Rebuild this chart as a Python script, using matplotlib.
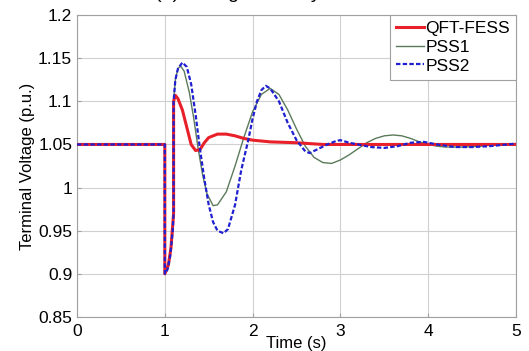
import numpy as np
import matplotlib.pyplot as plt

plt.rcParams['font.family'] = ['Liberation Sans', 'DejaVu Sans']

# QFT-FESS
t_qft = [0, 1.0, 1.0, 1.04, 1.07, 1.1, 1.1, 1.12, 1.15, 1.2, 1.25, 1.3, 1.35, 1.4,
         1.45, 1.5, 1.6, 1.7, 1.8, 1.9, 2.0, 2.2, 2.5, 2.8, 3.0, 5.0]
v_qft = [1.05, 1.05, 0.9, 0.91, 0.93, 0.97, 1.10, 1.107, 1.103, 1.09, 1.07, 1.05, 1.043, 1.044,
         1.052, 1.058, 1.062, 1.062, 1.06, 1.057, 1.055, 1.053, 1.052, 1.05, 1.05, 1.05]

# PSS1
t_pss1 = [0, 1.0, 1.0, 1.03, 1.06, 1.09, 1.1, 1.1, 1.12, 1.15, 1.18, 1.22, 1.28, 1.33,
          1.38, 1.43, 1.48, 1.55, 1.6, 1.7, 1.8, 1.9, 2.0, 2.1, 2.2, 2.3, 2.4, 2.5,
          2.6, 2.7, 2.8, 2.9, 3.0, 3.1, 3.2, 3.3, 3.4, 3.5, 3.6, 3.7, 3.8, 3.9, 4.0,
          4.1, 4.2, 4.4, 4.6, 4.8, 5.0]
v_pss1 = [1.05, 1.05, 0.9, 0.905, 0.92, 0.95, 0.97, 1.10, 1.125, 1.138, 1.141, 1.135, 1.11, 1.08,
          1.045, 1.015, 0.993, 0.979, 0.98, 0.995, 1.025, 1.058, 1.088, 1.108, 1.115, 1.108, 1.09, 1.068,
          1.048, 1.035, 1.029, 1.028, 1.032, 1.038, 1.045, 1.052, 1.057, 1.06, 1.061, 1.06, 1.057, 1.053, 1.05,
          1.048, 1.047, 1.047, 1.048, 1.05, 1.051]

# PSS2
t_pss2 = [0, 1.0, 1.0, 1.03, 1.06, 1.09, 1.1, 1.1, 1.12, 1.15, 1.2, 1.25, 1.3, 1.35,
          1.4, 1.45, 1.5, 1.55, 1.6, 1.67, 1.72, 1.8, 1.87, 1.95, 2.0, 2.05, 2.1, 2.15,
          2.2, 2.3, 2.4, 2.5, 2.6, 2.65, 2.75, 2.85, 2.95, 3.0, 3.1, 3.2, 3.35, 3.5,
          3.65, 3.8, 3.95, 4.1, 4.3, 4.5, 4.7, 5.0]
v_pss2 = [1.05, 1.05, 0.9, 0.905, 0.92, 0.95, 0.97, 1.10, 1.125, 1.138, 1.145, 1.14, 1.12, 1.085,
          1.045, 1.01, 0.98, 0.96, 0.95, 0.947, 0.952, 0.98, 1.02, 1.055, 1.08, 1.1, 1.113, 1.118,
          1.115, 1.1, 1.075, 1.055, 1.042, 1.04, 1.045, 1.05, 1.054, 1.055, 1.052, 1.05, 1.047, 1.046,
          1.048, 1.052, 1.053, 1.05, 1.047, 1.047, 1.048, 1.051]

xticks = [0, 1, 2, 3, 4, 5]
yticks = [0.85, 0.9, 0.95, 1.0, 1.05, 1.1, 1.15, 1.2]
ytick_labels = ['0.85', '0.9', '0.95', '1', '1.05', '1.1', '1.15', '1.2']

fig = plt.figure(figsize=(5.29, 3.51), dpi=100)
ax = fig.add_axes([0.1456, 0.097, 0.8298, 0.86])

ax.plot(t_qft, v_qft, color='#e8202a', lw=2.2, label='QFT-FESS', zorder=3)
ax.plot(t_pss1, v_pss1, color='#5b7a5b', lw=1.0, label='PSS1', zorder=2)
ax.plot(t_pss2, v_pss2, color='#2020d0', lw=1.6, ls=(0, (2.0, 1.0)), label='PSS2', zorder=4)

ax.set_xlim(0, 5)
ax.set_ylim(0.85, 1.2)
ax.set_xticks(xticks)
ax.set_yticks(yticks)
ax.set_yticklabels(ytick_labels)
ax.grid(True, color='#d0d0d0', lw=0.8)
ax.set_axisbelow(True)
for s in ax.spines.values():
    s.set_color('#a0a0a0')
ax.tick_params(direction='in', length=3, color='#a0a0a0', labelsize=12.5)
ax.tick_params(axis='x', pad=5)

ax.set_xlabel('Time (s)', fontsize=12, labelpad=-2)
ax.set_ylabel('Terminal Voltage (p.u.)', fontsize=12, labelpad=2)

leg = ax.legend(loc='upper right', fontsize=12.5, handlelength=1.6, handletextpad=0.1,
                borderaxespad=0.0, borderpad=0.35, labelspacing=0.2, fancybox=False,
                framealpha=1)
leg.get_frame().set_edgecolor('#a0a0a0')
leg.get_frame().set_linewidth(0.8)

fig.text(0.45, 1.0 + 1.5 / 351, '(a) Voltage stability', fontsize=14, ha='center', va='baseline')

fig.savefig('out.png', dpi=100)
